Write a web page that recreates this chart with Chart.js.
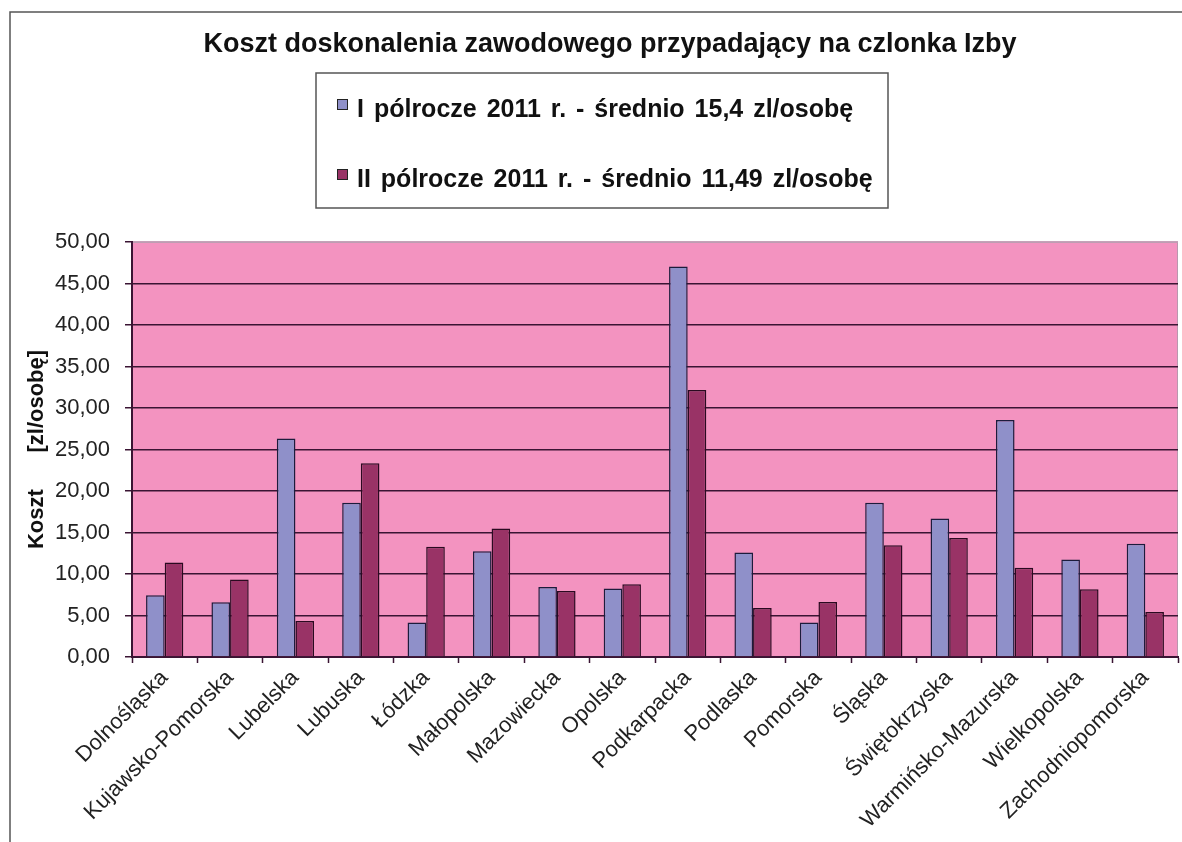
<!DOCTYPE html>
<html>
<head>
<meta charset="utf-8">
<script src="https://cdn.jsdelivr.net/npm/chart.js@4.4.1/dist/chart.umd.min.js"></script>
<style>
  html, body { margin: 0; padding: 0; background: #fff; }
  #wrap { width: 1182px; height: 842px; position: relative; }
</style>
</head>
<body>
<div id="wrap"><canvas id="c"></canvas></div>
<script>
// cost of professional training per chamber member, two half-years of 2011

const izby = [
  'Dolnośląska', 'Kujawsko-Pomorska', 'Lubelska', 'Lubuska', 'Łódzka', 'Małopolska',
  'Mazowiecka', 'Opolska', 'Podkarpacka', 'Podlaska', 'Pomorska', 'Śląska',
  'Świętokrzyska', 'Warmińsko-Mazurska', 'Wielkopolska', 'Zachodniopomorska',
];
const polrocze1 = [7.44, 6.60, 26.34, 18.58, 4.15, 12.75, 8.44, 8.25, 47.05, 12.59, 4.15, 18.58, 16.69, 28.55, 11.75, 13.63];
const polrocze2 = [11.39, 9.33, 4.34, 23.33, 13.27, 15.49, 7.96, 8.77, 32.17, 5.91, 6.63, 13.47, 14.35, 10.74, 8.17, 5.43];
const seriesLabels = [
  'I pólrocze 2011 r. - średnio 15,4 zl/osobę',
  'II pólrocze 2011 r. - średnio 11,49 zl/osobę',
];
const chartTitle = 'Koszt doskonalenia zawodowego przypadający na czlonka Izby';
const yTitle = 'Koszt      [zl/osobę]';

const FONT = '"Liberation Sans", Arial, sans-serif';
const DARK = '#3a1433';
const PLOT_BG = '#f393c0';

// frame, pink plot area, title and boxed legend
const decor = {
  id: 'decor',
  beforeDraw(chart) {
    const { ctx, chartArea: a } = chart;
    ctx.save();
    ctx.fillStyle = '#fff';
    ctx.fillRect(0, 0, chart.width, chart.height);
    ctx.fillStyle = PLOT_BG;
    ctx.fillRect(a.left, a.top, a.right - a.left, a.bottom - a.top);
    ctx.strokeStyle = '#b898ae';
    ctx.lineWidth = 1;
    ctx.strokeRect(a.left + 0.5, a.top + 0.5, a.right - a.left - 1, a.bottom - a.top - 1);
    ctx.strokeStyle = '#555';
    ctx.lineWidth = 1.5;
    ctx.beginPath();
    ctx.moveTo(10, chart.height);
    ctx.lineTo(10, 12);
    ctx.lineTo(chart.width, 12);
    ctx.stroke();
    ctx.restore();
  },
  afterDraw(chart) {
    const { ctx } = chart;
    ctx.save();
    ctx.fillStyle = '#111';
    ctx.font = 'bold 27px ' + FONT;
    ctx.textAlign = 'center';
    ctx.textBaseline = 'alphabetic';
    ctx.fillText(chartTitle, 610, 52);

    ctx.strokeStyle = '#555';
    ctx.lineWidth = 1.5;
    ctx.strokeRect(316, 73, 572, 135);
    ctx.font = 'bold 25px ' + FONT;
    ctx.textAlign = 'left';
    ctx.wordSpacing = '3px';
    chart.data.datasets.forEach((ds, i) => {
      const y = 99 + i * 70;
      ctx.fillStyle = ds.backgroundColor;
      ctx.fillRect(337, y, 10, 10);
      ctx.strokeStyle = '#222';
      ctx.lineWidth = 1;
      ctx.strokeRect(337.5, y + 0.5, 10, 10);
      ctx.fillStyle = '#111';
      ctx.fillText(ds.label, 357, y + 18);
    });
    ctx.restore();
  },
};

new Chart(document.getElementById('c'), {
  type: 'bar',
  data: {
    labels: izby,
    datasets: [
      {
        label: seriesLabels[0],
        data: polrocze1,
        backgroundColor: '#8f90c9',
        borderColor: '#1c1c3c',
        borderWidth: 1.5,
      },
      {
        label: seriesLabels[1],
        data: polrocze2,
        backgroundColor: '#993366',
        borderColor: '#2a0a20',
        borderWidth: 1.5,
      },
    ],
  },
  options: {
    responsive: true,
    maintainAspectRatio: false,
    animation: false,
    devicePixelRatio: 1,
    datasets: { bar: { categoryPercentage: 0.57, barPercentage: 1 } },
    layout: { padding: { top: 242, right: 4, left: 0, bottom: 0 } },
    plugins: {
      legend: { display: false },
      title: { display: false },
      tooltip: { enabled: false },
    },
    scales: {
      x: {
        afterFit: (s) => { s.height = 185; },
        grid: {
          offset: true,
          drawOnChartArea: false,
          drawTicks: true,
          tickLength: 6,
          tickColor: DARK,
          tickWidth: 1.5,
        },
        border: { color: DARK, width: 2 },
        ticks: {
          autoSkip: false,
          maxRotation: 45,
          minRotation: 45,
          padding: 2,
          color: '#222',
          font: { family: FONT, size: 22 },
        },
      },
      y: {
        min: 0,
        max: 50,
        afterFit: (s) => { s.width = 132; },
        grid: {
          color: (c) => (c.tick && c.tick.value === 50 ? '#c4a2b8' : DARK),
          lineWidth: 1.5,
          tickLength: 7,
          tickColor: DARK,
          tickWidth: 1.5,
        },
        border: { color: DARK, width: 2 },
        ticks: {
          stepSize: 5,
          padding: 15,
          color: '#222',
          font: { family: FONT, size: 22 },
          callback: (v) => v.toFixed(2).replace('.', ','),
        },
        title: {
          display: true,
          text: yTitle,
          color: '#111',
          padding: { top: 24, bottom: 0 },
          font: { family: FONT, size: 22, weight: 'bold' },
        },
      },
    },
  },
  plugins: [decor],
});
</script>
</body>
</html>
